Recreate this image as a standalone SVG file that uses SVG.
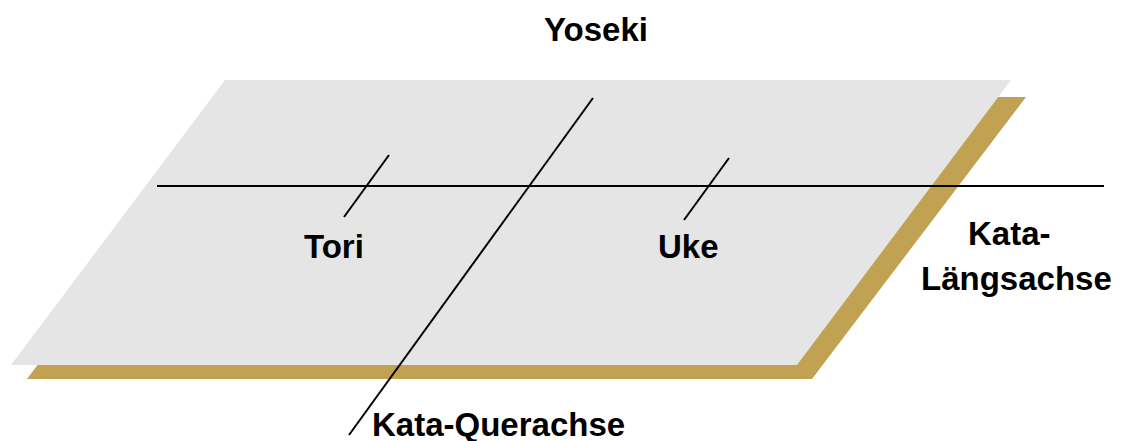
<svg xmlns="http://www.w3.org/2000/svg" width="1122" height="441" viewBox="0 0 1122 441">
<style>
.t{font-family:"Liberation Sans",Arial,sans-serif;font-weight:bold;font-size:33px;fill:#000}
.ln{stroke:#000;stroke-width:2;fill:none}
</style>
<rect width="1122" height="441" fill="#fff"/>
<g id="plane">
<polygon points="240,97 1026,97 812,379 27,379" fill="#C1A252"/>
<polygon points="225,80 1011,80 797,365 11,365" fill="#E5E5E5"/>
</g>
<g id="connectors">
<line class="ln" x1="157" y1="186" x2="1104" y2="186"/>
<line class="ln" x1="593" y1="98" x2="349" y2="435"/>
<line class="ln" x1="389" y1="155" x2="344" y2="217"/>
<line class="ln" x1="729" y1="158" x2="684" y2="220"/>
</g>
<g id="yoseki"><text class="t" x="596" y="41" text-anchor="middle">Yoseki</text></g>
<g id="tori"><text class="t" x="304" y="258">Tori</text></g>
<g id="uke"><text class="t" x="658" y="258">Uke</text></g>
<g id="laengsachse">
<text class="t" x="968" y="245">Kata-</text>
<text class="t" x="921" y="290">Längsachse</text>
</g>
<g id="querachse"><text class="t" x="372" y="436" font-size="32">Kata-Querachse</text></g>
</svg>
